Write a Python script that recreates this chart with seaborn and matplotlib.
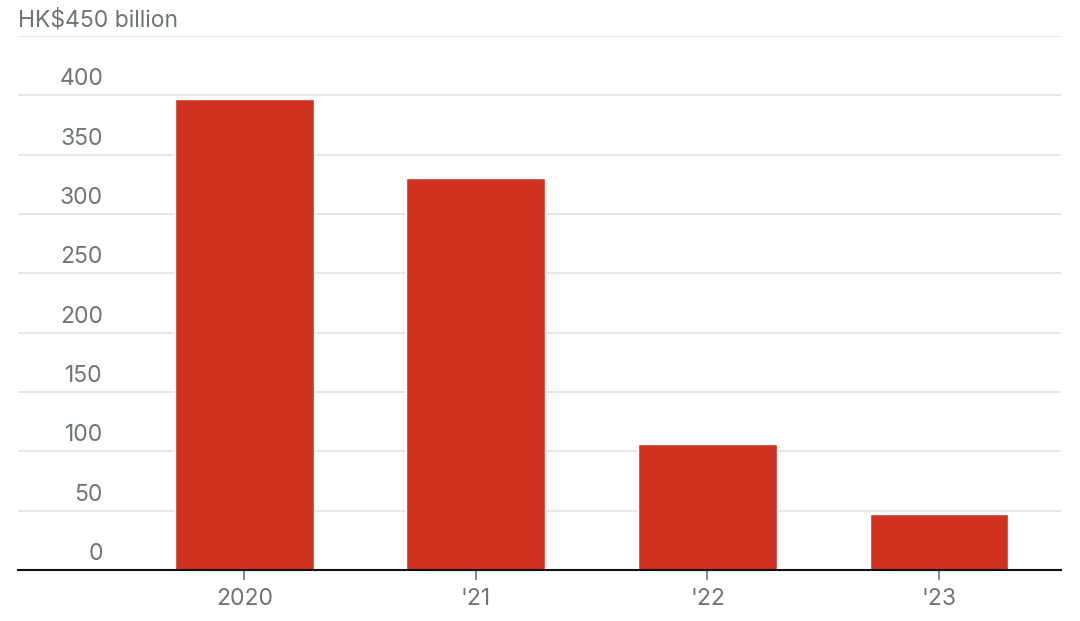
import matplotlib
matplotlib.use("Agg")
import matplotlib.pyplot as plt
import matplotlib.transforms as mtransforms
import seaborn as sns
import pandas as pd

years = ["2020", "'21", "'22", "'23"]
values = [397, 330, 106, 47]
yticks = [0, 50, 100, 150, 200, 250, 300, 350, 400, 450]
top_label = "HK$450 billion"

sns.set_theme(style="white")
plt.rcParams['font.family'] = ['Inter', 'DejaVu Sans']

text_color = "#6e7573"
bar_color = "#cf3220"

fig = plt.figure(figsize=(10.8, 6.21), dpi=100)
ax = fig.add_axes([18/1080, 51/621, (1061-18)/1080, (570-36)/621])

df = pd.DataFrame({"year": years, "value": values})
sns.barplot(data=df, x="year", y="value", order=years, color=bar_color,
            saturation=1, width=0.6, ax=ax)

ax.set_xlim(-0.978, 3.527)
ax.set_ylim(0, 450)
ax.set_xlabel("")
ax.set_ylabel("")

for v in yticks[1:]:
    ax.axhline(v, color="#e3e3e3", lw=1.2, zorder=0)
ax.set_axisbelow(True)

for s in ["top", "right", "left"]:
    ax.spines[s].set_visible(False)
ax.spines["bottom"].set_color("#111111")
ax.spines["bottom"].set_linewidth(1.5)

ax.set_yticks([])
ax.tick_params(axis="x", bottom=True, length=7, width=1.2, color="#6e7573",
               labelsize=16.5, labelcolor=text_color, pad=6)

trans = mtransforms.blended_transform_factory(ax.transAxes, ax.transData)
offset = mtransforms.ScaledTranslation(0, 3.5/72, fig.dpi_scale_trans)
for v in yticks[:-1]:
    ax.text(0.0815, v, f"{v}", transform=trans + offset, ha="right", va="bottom",
            fontsize=16.5, color=text_color)
ax.text(0.0, yticks[-1], top_label, transform=trans + offset, ha="left", va="bottom",
        fontsize=16.5, color=text_color, clip_on=False)

fig.savefig("out.png", dpi=100)
